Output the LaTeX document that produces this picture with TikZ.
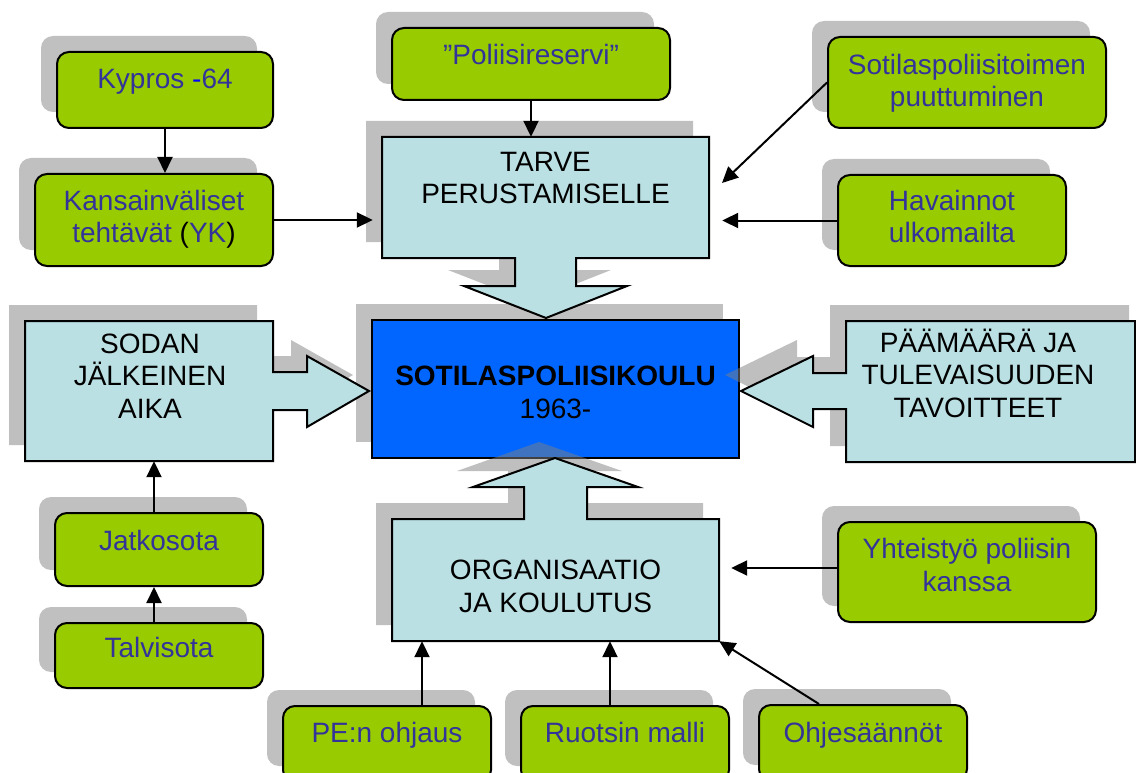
\documentclass[tikz,border=0pt]{standalone}
\usepackage{fontspec}
\setmainfont{Liberation Sans}
\usetikzlibrary{arrows.meta,shadows}
\definecolor{grn}{HTML}{99CC00}
\definecolor{lblue}{HTML}{BBE0E3}
\definecolor{cblue}{HTML}{0066FF}
\definecolor{shd}{HTML}{C0C0C0}
\definecolor{txtblue}{HTML}{333399}
\definecolor{pureblue}{HTML}{0000FF}
\tikzset{
  gbox/.style={draw=black, line width=2pt, fill=grn, rounded corners=12pt, inner sep=0pt,
    general shadow={fill=shd, shadow xshift=-16pt, shadow yshift=16pt}},
  cbox/.style={draw=black, line width=2pt, fill=cblue, inner sep=0pt,
    general shadow={fill=shd, shadow xshift=-16pt, shadow yshift=16pt}},
  blk/.style={draw=black, line width=2pt, fill=lblue, line join=miter},
  bshadow/.style={fill=black!50, fill opacity=0.5},
  area/.style={draw=none, inner sep=0pt},
  gtext/.style={text=txtblue, font=\fontsize{28pt}{32.5pt}\selectfont, align=center, anchor=base, inner sep=0pt},
  btext/.style={text=black, font=\fontsize{28pt}{32.5pt}\selectfont, align=center, anchor=base, inner sep=0pt},
  conn/.style={line width=2pt, draw=black, -{Triangle[length=16pt,width=15pt]}}
}
\begin{document}
\begin{tikzpicture}[x=1pt,y=-1pt]
\useasboundingbox[fill=white] (0,0) rectangle (1136,773);

% green boxes
\node[gbox, minimum width=216pt, minimum height=76pt] (kyp) at (165,90) {};
\node[gbox, minimum width=238pt, minimum height=92pt] (kans) at (154,220) {};
\node[gbox, minimum width=278pt, minimum height=72pt] (poli) at (531,64) {};
\node[gbox, minimum width=278pt, minimum height=91pt] (sotil) at (967,82.5) {};
\node[gbox, minimum width=228pt, minimum height=91pt] (hav) at (952,220.5) {};
\node[gbox, minimum width=208pt, minimum height=73pt] (jat) at (159,549.5) {};
\node[gbox, minimum width=208pt, minimum height=65pt] (tal) at (159,655.5) {};
\node[gbox, minimum width=258pt, minimum height=100pt] (yht) at (967,572) {};
\node[gbox, minimum width=208pt, minimum height=76pt] (pe) at (387,744) {};
\node[gbox, minimum width=208pt, minimum height=76pt] (ruo) at (625,744) {};
\node[gbox, minimum width=208pt, minimum height=76pt] (ohj) at (863,743) {};

% centre box
\node[cbox, minimum width=367pt, minimum height=138pt] (sk) at (555.5,389) {};

% TARVE block
\fill[bshadow, shift={(-16,-16)}] (382,137) -- (709,137) -- (709,258) -- (576,258) -- (576,286) -- (627,286) -- (546,318) -- (464,286) -- (515,286) -- (515,258) -- (382,258) -- cycle;
\path[blk] (382,137) -- (709,137) -- (709,258) -- (576,258) -- (576,286) -- (627,286) -- (546,318) -- (464,286) -- (515,286) -- (515,258) -- (382,258) -- cycle;
\node[area, minimum width=327pt, minimum height=121pt] (tarve) at (545.5,197.5) {};

% SODAN block
\fill[bshadow, shift={(-16,-16)}] (25,321) -- (273,321) -- (273,372) -- (307,372) -- (307,356) -- (369,391) -- (307,427) -- (307,410) -- (273,410) -- (273,461) -- (25,461) -- cycle;
\path[blk] (25,321) -- (273,321) -- (273,372) -- (307,372) -- (307,356) -- (369,391) -- (307,427) -- (307,410) -- (273,410) -- (273,461) -- (25,461) -- cycle;
\node[area, minimum width=248pt, minimum height=140pt] (sodan) at (149,391) {};

% PAAMAARA block
\fill[bshadow] (830,305) -- (1129,305) -- (1129,446) -- (830,446) -- (830,393) -- (797,393) -- (797,411) -- (725,375) -- (797,340) -- (797,357) -- (830,357) -- cycle;
\path[blk] (846,321) -- (1135,321) -- (1135,462) -- (846,462) -- (846,409) -- (813,409) -- (813,427) -- (741,391) -- (813,356) -- (813,373) -- (846,373) -- cycle;
\node[area, minimum width=289pt, minimum height=141pt] (paa) at (990.5,391.5) {};

% ORG block
\fill[bshadow, shift={(-16,-16)}] (392,519) -- (524,519) -- (524,487) -- (473,487) -- (555,458) -- (638,487) -- (587,487) -- (587,519) -- (719,519) -- (719,641) -- (392,641) -- cycle;
\path[blk] (392,519) -- (524,519) -- (524,487) -- (473,487) -- (555,458) -- (638,487) -- (587,487) -- (587,519) -- (719,519) -- (719,641) -- (392,641) -- cycle;
\node[area, minimum width=327pt, minimum height=122pt] (org) at (555.5,580) {};

% texts (anchor = baseline of the last line)
\node[gtext] (kypt) at (165,89) {Kypros {\color{pureblue}-}64};
\node[gtext] (kanst) at (154,243) {Kansainväliset\\tehtävät {\color{black}(}YK{\color{black})}};
\node[gtext] (polit) at (531,65) {”Poliisireservi”};
\node[gtext] (sotilt) at (967,107) {Sotilaspoliisitoimen\\puuttuminen};
\node[gtext] (havt) at (952,243) {Havainnot\\ulkomailta};
\node[gtext] (jatt) at (159,550) {Jatkosota};
\node[gtext] (talt) at (159,657) {Talvisota};
\node[gtext] (yhtt) at (967,591) {Yhteistyö poliisin\\kanssa};
\node[gtext] (pet) at (387,742) {PE:n ohjaus};
\node[gtext] (ruot) at (625,742) {Ruotsin malli};
\node[gtext] (ohjt) at (863,742) {Ohjesäännöt};
\node[btext] (tarvet) at (545.5,204) {TARVE\\PERUSTAMISELLE};
\node[btext] (sodant) at (150,418) {SODAN\\JÄLKEINEN\\AIKA};
\node[btext] (paat) at (978,417) {PÄÄMÄÄRÄ JA\\TULEVAISUUDEN\\TAVOITTEET};
\node[btext] (skt) at (555.5,418) {\textbf{SOTILASPOLIISIKOULU}\\1963-};
\node[btext] (orgt) at (555.5,612) {ORGANISAATIO\\JA KOULUTUS};

% connectors
\coordinate (sotend) at (722,183);
\draw[conn] (kyp.south) -- (kyp.south |- kans.north);
\draw[conn, shorten >=9pt] (kans.east) -- (kans.east -| tarve.west);
\draw[conn] (poli.south) -- (poli.south |- tarve.north);
\draw[conn] (sotil.west) -- (sotend);
\draw[conn, shorten >=13pt] (hav.west) -- (hav.west -| tarve.east);
\draw[conn] ([xshift=-5pt]jat.north) -- ([xshift=-5pt]jat.north |- sodan.south);
\draw[conn] ([xshift=-5pt]tal.north) -- ([xshift=-5pt]jat.south);
\draw[conn, shorten >=12pt] ([yshift=4pt]yht.west) -- ([yshift=4pt]yht.west -| org.east);
\draw[conn] ([xshift=35pt]pe.north) -- ([xshift=35pt]pe.north |- org.south);
\draw[conn] ([xshift=-15pt]ruo.north) -- ([xshift=-15pt]ruo.north |- org.south);
\draw[conn] ([xshift=-44pt]ohj.north) -- (org.south east);
\end{tikzpicture}
\end{document}
